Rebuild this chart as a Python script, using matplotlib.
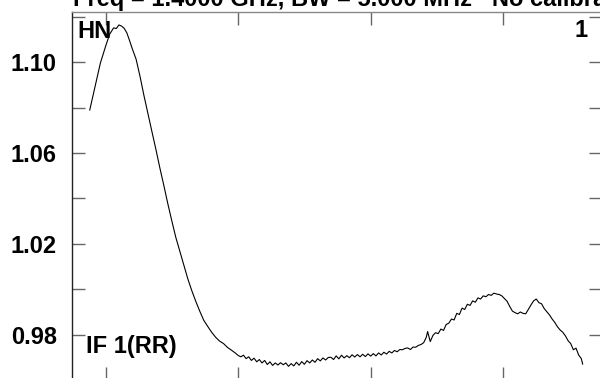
import matplotlib
matplotlib.use('Agg')
import matplotlib.pyplot as plt
from matplotlib.ticker import FixedLocator, NullFormatter

plt.rcParams['font.family'] = ['Liberation Sans', 'DejaVu Sans']

# spectrum (channel, relative power)
channel = [88, 92, 96, 100, 103, 106, 108, 110, 112, 114, 116, 118, 120, 123, 126, 129,
           132, 135, 138, 141, 144, 147, 150, 153, 156, 159, 162, 165, 168, 171, 174, 177,
           180, 183, 186, 189, 192, 195,
           198, 200, 202, 204, 206, 208, 210, 212, 214, 216, 218, 220, 222, 224, 226, 228,
           230, 232, 234, 236, 238, 240, 242, 244, 246, 248, 250, 252, 254, 256, 258, 260,
           262, 264, 266, 268, 270, 272, 274, 276, 278, 280, 282, 284, 286, 288, 290, 292,
           294, 296, 298, 300, 302, 304, 306, 308, 310, 312, 314, 316, 318, 320, 322, 324,
           326, 328, 330, 332, 334, 336, 338, 340, 342, 343, 345, 347, 349, 351, 353, 355,
           357, 359, 361, 363, 365, 367, 369, 371, 373, 375, 377, 379, 381, 383, 385, 387,
           389, 391, 393, 395, 397, 399, 401, 403, 405, 407, 409, 411, 413, 415, 417, 419,
           421, 423, 425, 427, 429, 431, 433, 435, 437, 439, 441, 443, 445, 447, 449, 451,
           453, 455, 457, 459, 460]
power = [1.0789, 1.0891, 1.0995, 1.1070, 1.1122, 1.1150, 1.1147, 1.1163, 1.1158, 1.1148,
         1.1128, 1.1095, 1.1060, 1.1012, 1.0935, 1.0850, 1.0770, 1.0692, 1.0614, 1.0532,
         1.0455, 1.0375, 1.0300, 1.0228, 1.0168, 1.0108, 1.0047, 0.9995, 0.9948, 0.9905,
         0.9865, 0.9838, 0.9812, 0.9790, 0.9773, 0.9762, 0.9745, 0.9733,
         0.9720, 0.9710, 0.9704, 0.9711, 0.9696, 0.9704, 0.9688, 0.9698, 0.9682, 0.9692,
         0.9677, 0.9688, 0.9670, 0.9682, 0.9666, 0.9677, 0.9668, 0.9678, 0.9669, 0.9677,
         0.9662, 0.9674, 0.9664, 0.9680, 0.9667, 0.9683, 0.9671, 0.9687, 0.9677, 0.9690,
         0.9680, 0.9696, 0.9686, 0.9699, 0.9690, 0.9701, 0.9702, 0.9692, 0.9708, 0.9695,
         0.9711, 0.9699, 0.9709, 0.9700, 0.9713, 0.9703, 0.9714, 0.9704, 0.9715, 0.9705,
         0.9717, 0.9707, 0.9718, 0.9708, 0.9721, 0.9712, 0.9724, 0.9716, 0.9728, 0.9721,
         0.9732, 0.9726, 0.9736, 0.9735, 0.9741, 0.9743, 0.9736, 0.9747, 0.9746, 0.9754,
         0.9758, 0.9766, 0.9790, 0.9815, 0.9771, 0.9798, 0.9810, 0.9806, 0.9826, 0.9820,
         0.9846, 0.9852, 0.9870, 0.9866, 0.9895, 0.9890, 0.9918, 0.9912, 0.9935, 0.9930,
         0.9950, 0.9944, 0.9963, 0.9958, 0.9972, 0.9968, 0.9978, 0.9974, 0.9984, 0.9980,
         0.9978, 0.9972, 0.9960, 0.9948, 0.9925, 0.9905, 0.9898, 0.9893, 0.9901, 0.9895,
         0.9893, 0.9912, 0.9932, 0.9950, 0.9958, 0.9942, 0.9937, 0.9916, 0.9902, 0.9888,
         0.9870, 0.9855, 0.9836, 0.9822, 0.9812, 0.9796, 0.9775, 0.9762, 0.9735, 0.9742,
         0.9712, 0.9696, 0.9672]

y_major = [0.98, 1.02, 1.06, 1.10]
y_minor = [1.00, 1.04, 1.08, 1.12]
x_ticks = [100, 200, 300, 400]

title = 'Freq = 1.4000 GHz, BW = 5.000 MHz   No calibration'

fig = plt.figure(figsize=(6, 3.78), dpi=100)
# plot box runs off the right and bottom edges like in the original
ax = fig.add_axes([0.12, -0.0053, 0.8833, 0.9736])

ax.plot(channel, power, color='black', linewidth=0.8)

ax.set_xlim(74.6, 474.6)
ax.set_ylim(0.9602, 1.122)

ax.yaxis.set_major_locator(FixedLocator(y_major))
ax.yaxis.set_minor_locator(FixedLocator(y_minor))
ax.yaxis.set_minor_formatter(NullFormatter())
ax.set_yticklabels(['%.2f' % v for v in y_major], fontsize=17, fontweight='bold')
ax.xaxis.set_major_locator(FixedLocator(x_ticks))
ax.xaxis.set_major_formatter(NullFormatter())

ax.tick_params(axis='both', which='both', direction='in', length=9.5, width=1,
               color='#666666', top=True, right=True, pad=11)
ax.tick_params(axis='x', labelbottom=False)

ax.spines['top'].set_color('#888888')
ax.spines['left'].set_color('#222222')
for s in ['top', 'left', 'right', 'bottom']:
    ax.spines[s].set_linewidth(1)

# corner annotations
ax.text(77 / 600, 1 - 38 / 378, 'HN', transform=fig.transFigure, fontsize=17,
        fontweight='bold', va='baseline', ha='left')
ax.text(588 / 600, 1 - 37 / 378, '1', transform=fig.transFigure, fontsize=17,
        fontweight='bold', va='baseline', ha='right')
ax.text(86 / 600, 1 - 353 / 378, 'IF 1(RR)', transform=fig.transFigure, fontsize=17,
        fontweight='bold', va='baseline', ha='left')

fig.text(73 / 600, 1 - 6 / 378, title, fontsize=17, fontweight='bold',
         va='baseline', ha='left')

fig.savefig('out.png', dpi=100)
